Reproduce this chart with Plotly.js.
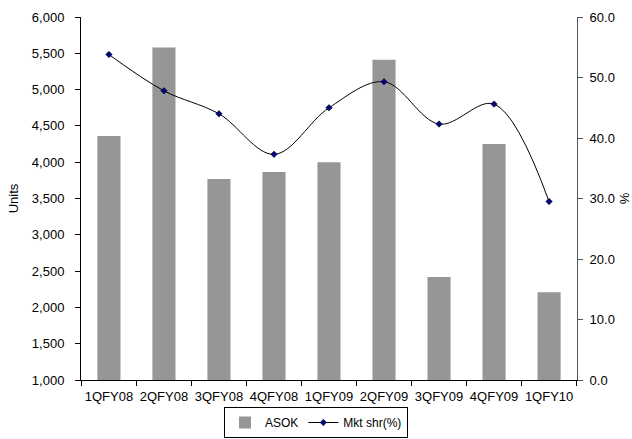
<!DOCTYPE html>
<html>
<head>
<meta charset="utf-8">
<script src="https://cdn.plot.ly/plotly-3.0.1.min.js"></script>
<style>html,body{margin:0;padding:0;background:#fff;}#chart{width:632px;height:439px;}</style>
</head>
<body>
<div id="chart"></div>
<script>
const categories = ["1QFY08","2QFY08","3QFY08","4QFY08","1QFY09","2QFY09","3QFY09","4QFY09","1QFY10"];
const asokUnits = [4360, 5580, 3770, 3865, 4000, 5410, 2420, 4250, 2210];
const mktShare = [53.8, 47.8, 44.0, 37.3, 45.0, 49.3, 42.3, 45.6, 29.5];

const font = {family: "Liberation Sans, Arial, sans-serif", size: 13, color: "#000"};
const legendFont = {family: "Liberation Sans, Arial, sans-serif", size: 12, color: "#000"};

const traces = [
  {
    type: "bar", name: "ASOK", x: categories, y: asokUnits,
    marker: {color: "#969696"}, width: 0.42, yaxis: "y"
  },
  {
    type: "scatter", mode: "lines+markers", name: "Mkt shr(%)", x: categories, y: mktShare,
    yaxis: "y2",
    line: {color: "#000", width: 1, shape: "spline", smoothing: 1},
    marker: {symbol: "diamond", size: 5, color: "#000080", line: {color: "#000", width: 0.5}}
  }
];

const layout = {
  width: 632, height: 439,
  margin: {l: 81, r: 55, t: 17, b: 59, autoexpand: false},
  paper_bgcolor: "#fff", plot_bgcolor: "#fff",
  font: font,
  showlegend: true,
  legend: {
    orientation: "h", x: 0.5, xanchor: "center", xref: "container",
    y: 1 / 439, yanchor: "bottom", yref: "container",
    bordercolor: "#000", borderwidth: 1, font: legendFont,
    itemwidth: 30, tracegroupgap: 0
  },
  xaxis: {
    type: "category", showline: true, linecolor: "#000", linewidth: 1,
    ticks: "outside", tickson: "boundaries", ticklen: 5, tickcolor: "#000",
    showgrid: false, zeroline: false, tickfont: font, automargin: false,
    tickangle: 0, ticklabelstandoff: 4
  },
  yaxis: {
    range: [1000, 6000], dtick: 500, tickformat: ",d",
    showline: true, linecolor: "#000", linewidth: 1,
    ticks: "outside", ticklen: 5, tickcolor: "#000",
    showgrid: false, zeroline: false, tickfont: font, automargin: false,
    ticklabelstandoff: 8,
    title: {text: "Units", font: font, standoff: 10}
  },
  yaxis2: {
    overlaying: "y", side: "right", range: [0, 60], dtick: 10, tickformat: ".1f",
    showline: true, linecolor: "#555", linewidth: 1,
    ticks: "outside", ticklen: 5, tickcolor: "#555",
    showgrid: false, zeroline: false, tickfont: font, automargin: false,
    ticklabelstandoff: 4,
    title: {text: "%", font: font, standoff: 6}
  }
};

Plotly.newPlot("chart", traces, layout, {displayModeBar: false, staticPlot: true});
</script>
</body>
</html>
